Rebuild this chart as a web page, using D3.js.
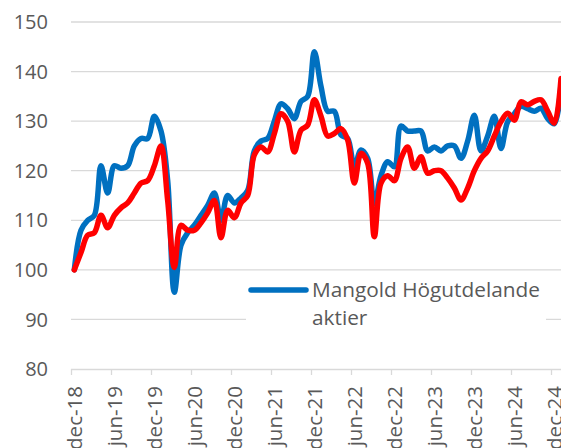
<!DOCTYPE html>
<html>
<head>
<meta charset="utf-8">
<script src="https://cdn.jsdelivr.net/npm/d3@7"></script>
<style>
  body { margin: 0; background: #fff; }
  svg { display: block; font-family: "Open Sans", sans-serif; }
</style>
</head>
<body>
<script>
// monthly points, dec-18 .. jan-25
const months = ["dec-18","jan-19","feb-19","mar-19","apr-19","maj-19","jun-19","jul-19","aug-19","sep-19","okt-19","nov-19",
  "dec-19","jan-20","feb-20","mar-20","apr-20","maj-20","jun-20","jul-20","aug-20","sep-20","okt-20","nov-20",
  "dec-20","jan-21","feb-21","mar-21","apr-21","maj-21","jun-21","jul-21","aug-21","sep-21","okt-21","nov-21",
  "dec-21","jan-22","feb-22","mar-22","apr-22","maj-22","jun-22","jul-22","aug-22","sep-22","okt-22","nov-22",
  "dec-22","jan-23","feb-23","mar-23","apr-23","maj-23","jun-23","jul-23","aug-23","sep-23","okt-23","nov-23",
  "dec-23","jan-24","feb-24","mar-24","apr-24","maj-24","jun-24","jul-24","aug-24","sep-24","okt-24","nov-24",
  "dec-24","jan-25"];

const mangold = [100,108,110,111,121,115.5,121,120.5,121,125,126.5,126.5,
  131,128,118,95.5,105,107.5,109,111,113,115.5,110,115,
  113.5,114.5,116,124,126,126.5,130,133.5,132.5,130.5,134,135,
  144,137,132,132,127.2,126.5,120.8,124.2,122.5,113.4,119,121.8,
  120.8,129,128,128,128,124,124.8,124,125,125,122.5,126,
  131.2,124,127,131,124.5,129.9,131.5,133,132.5,132,132.6,130.5,
  129.5,137.5];

const index = [100,103.5,107,107.5,111,108.5,111,112.5,113.5,115.5,117.5,118,
  121,125,114,100.5,109,108,108,109.5,111.5,114,106.5,112,
  110.5,113.5,115,123.2,124.8,123.8,127.5,131.5,130,123.8,128.2,129.2,
  134.3,131,127,127.5,128.5,126.2,117.5,123.5,121.5,106.7,117.5,119,
  118,122.5,124.8,120.5,122.8,119.5,120,120,118.5,116.5,114.1,116.5,
  120,122.5,124,127,129.9,131.6,130.2,133.9,133.3,134,134.3,132,
  129.6,138.6];

const yTicks = [80,90,100,110,120,130,140,150];
const legendLabel = ["Mangold Högutdelande", "aktier"];

const W = 561, H = 448;
const svg = d3.select("body").append("svg").attr("width", W).attr("height", H);

const x = d3.scaleLinear().domain([-0.5, months.length - 1]).range([71, 561]);
const y = d3.scaleLinear().domain([80, 150]).range([369, 22]);

// gridlines
svg.append("g").selectAll("line").data(yTicks.slice(1)).join("line")
  .attr("x1", 71).attr("x2", W)
  .attr("y1", d => y(d)).attr("y2", d => y(d))
  .attr("stroke", "#d9d9d9").attr("stroke-width", 1.3);

// y labels
svg.append("g").selectAll("text").data(yTicks).join("text")
  .attr("x", 48).attr("y", d => y(d)).attr("dy", "0.36em")
  .attr("text-anchor", "end").attr("fill", "#595959").style("font-size", "20px")
  .text(d => d);

// x axis
const tickIdx = d3.range(0, months.length, 6);
const xAxis = d3.axisBottom(x).tickValues(tickIdx.map(i => i - 0.5)).tickSize(6).tickFormat("");
const gx = svg.append("g").attr("transform", `translate(0,${y(80)})`).call(xAxis);
gx.select(".domain").attr("stroke", "#d9d9d9").attr("stroke-width", 1.3).attr("d", `M71,0.5H${W}`);
gx.selectAll(".tick line").attr("stroke", "#d9d9d9").attr("stroke-width", 1.3);

svg.append("g").selectAll("text").data(tickIdx).join("text")
  .attr("transform", i => `translate(${x(i)},386) rotate(-90)`)
  .attr("dy", "0.36em").attr("text-anchor", "end")
  .attr("fill", "#595959").style("font-size", "20.5px")
  .text(i => months[i]);

// lines
const line = d3.line().x((d, i) => x(i)).y(d => y(d)).curve(d3.curveCatmullRom.alpha(0.5));

svg.append("path").datum(mangold).attr("d", line)
  .attr("fill", "none").attr("stroke", "#0070c0").attr("stroke-width", 5.5)
  .attr("stroke-linejoin", "round").attr("stroke-linecap", "round");
svg.append("path").datum(index).attr("d", line)
  .attr("fill", "none").attr("stroke", "#ff0000").attr("stroke-width", 5.5)
  .attr("stroke-linejoin", "round").attr("stroke-linecap", "round");

// legend
const lg = svg.append("g");
lg.append("rect").attr("x", 246).attr("y", 276).attr("width", 300).attr("height", 60).attr("fill", "#fff");
lg.append("line").attr("x1", 251).attr("x2", 306).attr("y1", 290).attr("y2", 290)
  .attr("stroke", "#0070c0").attr("stroke-width", 5.5).attr("stroke-linecap", "round");
lg.selectAll("text").data(legendLabel).join("text")
  .attr("x", 312).attr("y", (d, i) => 297 + i * 28)
  .attr("fill", "#595959").style("font-size", "20.8px")
  .text(d => d);
</script>
</body>
</html>
